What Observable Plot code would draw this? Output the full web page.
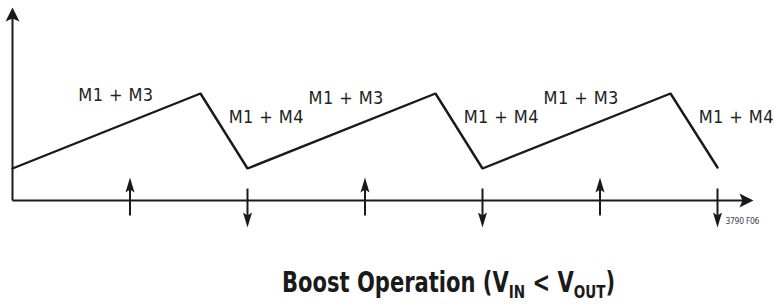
<!DOCTYPE html>
<html>
<head>
<meta charset="utf-8">
<script src="https://cdn.jsdelivr.net/npm/d3@7"></script>
<script src="https://cdn.jsdelivr.net/npm/@observablehq/plot@0.6"></script>
<style>
  body { margin: 0; background: #fff; width: 774px; height: 304px; overflow: hidden; }
  #chart svg { display: block; }
  .lbl { font-family: "DejaVu Sans Condensed", "Liberation Sans Narrow", "Arial Narrow", sans-serif; letter-spacing: 0.4px; }
  .note { font-family: "DejaVu Sans Condensed", sans-serif; letter-spacing: -0.3px; }
  #title {
    position: absolute; left: 282px; top: 269px;
    font-family: "DejaVu Sans Condensed", "Liberation Sans Narrow", "Arial Narrow", sans-serif;
    font-weight: bold; font-size: 28px; color: #1a1a1a; white-space: nowrap; line-height: 1;
    transform: scaleX(0.836); transform-origin: 0 0;
  }
  #title .sub { font-size: 18px; position: relative; top: 6px; }
</style>
</head>
<body>
<div id="chart"></div>
<div id="title">Boost Operation (V<span class="sub">IN</span> &lt; V<span class="sub">OUT</span>)</div>
<script>
// Inductor current waveform (time in switching periods, current in arbitrary units)
const waveT = [0, 0.8, 1.0, 1.8, 2.0, 2.8, 3.0];
const waveI = [0.32, 1.07, 0.32, 1.07, 0.32, 1.07, 0.33];

// Phase labels
const labelText = ["M1 + M3", "M1 + M4", "M1 + M3", "M1 + M4", "M1 + M3", "M1 + M4"];
const labelT    = [0.44, 1.08, 1.42, 2.08, 2.42, 3.08];
const labelI    = [1.05, 0.83, 1.02, 0.83, 1.02, 0.83];

// Switching event markers
const upT   = [0.5, 1.5, 2.5];
const downT = [1.0, 2.0, 3.0];

// Axis extents
const axisEndT = 3.153;
const axisTopI = 1.93;
const figNote = "3790 F06";

const wave = waveT.map((t, i) => ({t, i: waveI[i]}));
const labels = labelText.map((s, k) => ({s, t: labelT[k], i: labelI[k]}));
const ink = "#1a1a1a";

// filled arrowhead, tip at origin, pointing up
function head(len, half) {
  return {
    draw(ctx) {
      ctx.moveTo(0, 0);
      ctx.lineTo(half, len);
      ctx.lineTo(0, len - 3);
      ctx.lineTo(-half, len);
      ctx.closePath();
    }
  };
}
const smallHead = head(15, 4.5);
const bigHead = head(14, 7);

const upArrows = upT.map(t => ({t, from: -0.15, to: 0.23}));
const downArrows = downT.map(t => ({t, from: 0.12, to: -0.27}));

const plot = Plot.plot({
  width: 774,
  height: 250,
  marginTop: 0, marginRight: 0, marginBottom: 0, marginLeft: 0,
  x: {domain: [-0.05106, 3.24255], axis: null},
  y: {domain: [-0.5, 2.0], axis: null},
  marks: [
    // axes
    Plot.link([{x1: 0, y1: 0, x2: axisEndT - 0.04, y2: 0}], {x1: "x1", y1: "y1", x2: "x2", y2: "y2", stroke: ink, strokeWidth: 2}),
    Plot.link([{x1: 0, y1: 0, x2: 0, y2: axisTopI - 0.08}], {x1: "x1", y1: "y1", x2: "x2", y2: "y2", stroke: ink, strokeWidth: 2}),
    Plot.dot([{t: 0, i: axisTopI}], {x: "t", y: "i", symbol: bigHead, fill: ink, stroke: "none"}),
    Plot.dot([{t: axisEndT, i: 0}], {x: "t", y: "i", symbol: bigHead, rotate: 90, fill: ink, stroke: "none"}),
    // waveform
    Plot.line(wave, {x: "t", y: "i", stroke: ink, strokeWidth: 2.4, strokeLinejoin: "miter"}),
    // up arrows
    Plot.link(upArrows, {x1: "t", x2: "t", y1: "from", y2: d => d.to - 0.05, stroke: ink, strokeWidth: 2}),
    Plot.dot(upArrows, {x: "t", y: "to", symbol: smallHead, fill: ink, stroke: "none"}),
    // down arrows
    Plot.link(downArrows, {x1: "t", x2: "t", y1: "from", y2: d => d.to + 0.05, stroke: ink, strokeWidth: 2}),
    Plot.dot(downArrows, {x: "t", y: "to", symbol: smallHead, rotate: 180, fill: ink, stroke: "none"}),
    // labels
    Plot.text(labels, {x: "t", y: "i", text: "s", fill: "#222", fontSize: 18, className: "lbl", textAnchor: "middle"}),
    Plot.text([{t: 3.034, i: -0.205}], {x: "t", y: "i", text: () => figNote, fill: "#3a3f55", fontSize: 8.5, textAnchor: "start", className: "note"})
  ]
});
document.getElementById("chart").appendChild(plot);
</script>
</body>
</html>
